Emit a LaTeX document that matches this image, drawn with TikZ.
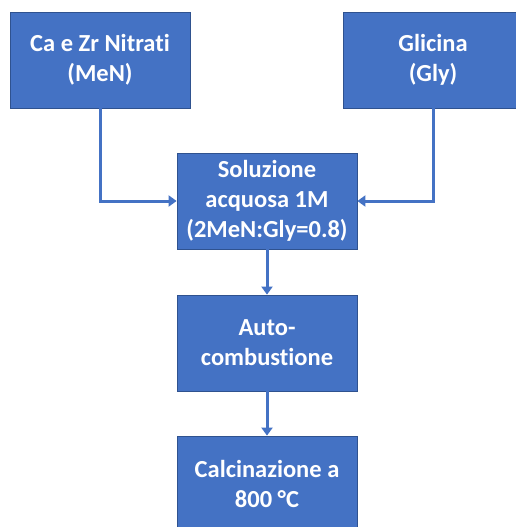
\documentclass[tikz,border=0pt]{standalone}
\usepackage{fontspec}
\setmainfont[Ligatures=NoCommon]{Carlito}
\usetikzlibrary{arrows.meta}
\definecolor{boxfill}{HTML}{4472C4}
\definecolor{boxline}{HTML}{2F528F}
\begin{document}
\begin{tikzpicture}[x=1pt,y=-1pt,
  box/.style={draw=boxline,line width=0.8pt,fill=boxfill,text=white,
    minimum width=180pt,minimum height=96pt,inner sep=0pt,align=center,
    font=\fontsize{24.5}{30}\selectfont\bfseries},
  conn/.style={draw=boxfill,line width=3pt,-{Triangle[width=11pt,length=8pt]}}]
\useasboundingbox (0,0) rectangle (515,527);
\node[box] (a) at (100,60) {Ca e Zr Nitrati\\(MeN)};
\node[box] (b) at (433,60) {Glicina\\(Gly)};
\node[box] (c) at (267,201) {Soluzione\\acquosa 1M\\(2MeN:Gly=0.8)};
\node[box] (d) at (267,343) {Auto-\\combustione};
\node[box] (e) at (267,484) {Calcinazione a\\800 °C};
\draw[conn] (a.south) |- (c.west);
\draw[conn] (b.south) |- (c.east);
\draw[conn] (c) -- (d);
\draw[conn] (d) -- (e);
\end{tikzpicture}
\end{document}
